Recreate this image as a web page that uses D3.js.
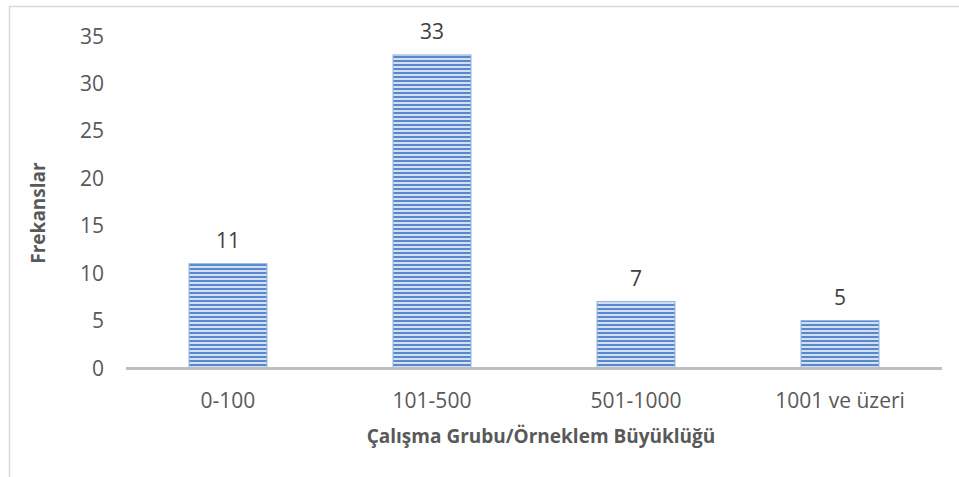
<!DOCTYPE html>
<html>
<head>
<meta charset="utf-8">
<script src="https://cdn.jsdelivr.net/npm/d3@7"></script>
<style>
  body { margin: 0; background: #fff; }
  text { font-family: "Open Sans", "Noto Sans", sans-serif; }
</style>
</head>
<body>
<div id="chart"></div>
<script>
// veriler
var categories = ["0-100", "101-500", "501-1000", "1001 ve üzeri"];
var values = [11, 33, 7, 5];
var yTicks = [0, 5, 10, 15, 20, 25, 30, 35];
var xTitle = "Çalışma Grubu/Örneklem Büyüklüğü";
var yTitle = "Frekanslar";

var width = 959, height = 477;
var margin = { left: 126, right: 17, top: 36, bottom: 109 };

var svg = d3.select("#chart")
    .append("svg")
    .attr("width", width)
    .attr("height", height);

// çerçeve
svg.append("rect")
    .attr("x", 9.5)
    .attr("y", 6.5)
    .attr("width", 1000)
    .attr("height", 1000)
    .attr("fill", "none")
    .attr("stroke", "#d9d9d9")
    .attr("stroke-width", 1.5);

// çizgili desen
var defs = svg.append("defs");
var pat = defs.append("pattern")
    .attr("id", "stripes")
    .attr("patternUnits", "userSpaceOnUse")
    .attr("width", 8)
    .attr("height", 4);
pat.append("rect").attr("width", 8).attr("height", 4).attr("fill", "#d3e0f2");
pat.append("rect").attr("y", 0).attr("width", 8).attr("height", 2).attr("fill", "#5a88cc");

var x = d3.scaleBand()
    .domain(categories)
    .range([margin.left, width - margin.right])
    .paddingInner(0.618)
    .paddingOuter(0.309);

var y = d3.scaleLinear()
    .domain([0, 35])
    .range([height - margin.bottom, margin.top]);

// y ekseni etiketleri
svg.append("g")
    .selectAll("text")
    .data(yTicks)
    .join("text")
    .attr("x", 104)
    .attr("y", d => y(d))
    .attr("dy", "0.36em")
    .attr("text-anchor", "end")
    .attr("font-size", 21)
    .attr("fill", "#595959")
    .text(d => d);

// çubuklar
svg.append("g")
    .selectAll("rect")
    .data(values)
    .join("rect")
    .attr("x", (d, i) => x(categories[i]))
    .attr("y", d => y(d))
    .attr("width", x.bandwidth())
    .attr("height", d => y(0) - y(d))
    .attr("fill", "url(#stripes)")
    .attr("stroke", "#8fb0e0")
    .attr("stroke-width", 1);

// değer etiketleri
svg.append("g")
    .selectAll("text")
    .data(values)
    .join("text")
    .attr("x", (d, i) => x(categories[i]) + x.bandwidth() / 2)
    .attr("y", d => y(d) - 16)
    .attr("text-anchor", "middle")
    .attr("font-size", 21)
    .attr("fill", "#404040")
    .text(d => d);

// x ekseni
svg.append("line")
    .attr("x1", margin.left)
    .attr("x2", width - margin.right)
    .attr("y1", y(0) + 0.5)
    .attr("y2", y(0) + 0.5)
    .attr("stroke", "#bfbfbf")
    .attr("stroke-width", 3);

svg.append("g")
    .selectAll("text")
    .data(categories)
    .join("text")
    .attr("x", d => x(d) + x.bandwidth() / 2)
    .attr("y", 408)
    .attr("text-anchor", "middle")
    .attr("font-size", 21)
    .attr("fill", "#595959")
    .text(d => d);

// eksen başlıkları
svg.append("text")
    .attr("x", 541)
    .attr("y", 443)
    .attr("text-anchor", "middle")
    .attr("font-size", 19)
    .attr("font-weight", "bold")
    .attr("fill", "#595959")
    .text(xTitle);

svg.append("text")
    .attr("transform", "translate(45, 213) rotate(-90)")
    .attr("text-anchor", "middle")
    .attr("font-size", 19)
    .attr("font-weight", "bold")
    .attr("fill", "#595959")
    .text(yTitle);
</script>
</body>
</html>
